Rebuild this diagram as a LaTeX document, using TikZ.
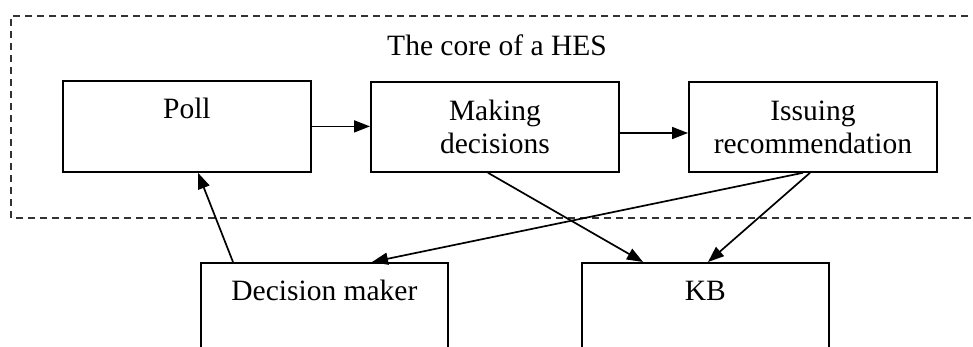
\documentclass[tikz,border=0pt]{standalone}
\usepackage{fontspec}
\setmainfont{Liberation Serif}
\usetikzlibrary{arrows.meta}
\begin{document}
\begin{tikzpicture}[x=1pt,y=-1pt,
  box/.style={draw, line width=1.8pt, inner sep=0pt, align=center, anchor=north west,
    font=\fontsize{29.5}{33}\selectfont},
  arr/.style={line width=1.7pt, -{Triangle[length=16pt,width=12pt]}},
  core/.style={draw=black!80, line width=1.5pt, dash pattern=on 7pt off 5pt}]
\useasboundingbox (0,0) rectangle (973,347);
\clip (0,0) rectangle (973,347);
\fill[white] (0,0) rectangle (973,347);
\draw[core] (980,16) -- (11,16) -- (11,218) -- (980,218);
\node[font=\fontsize{29.5}{33}\selectfont] (title) at (497,45) {The core of a HES};
\node[box, minimum width=248pt, text height=38pt, text depth=53pt] (poll) at (62,80) {Poll};
\node[box, minimum width=248pt, minimum height=90pt] (mk) at (370,81) {Making\\decisions};
\node[box, minimum width=248pt, minimum height=90pt] (iss) at (688,81) {Issuing\\recommendation};
\node[box, minimum width=247pt, text height=38pt, text depth=110pt] (dm) at (200,262) {Decision maker};
\node[box, minimum width=247pt, text height=38pt, text depth=110pt] (kb) at (581,262) {KB};
\draw[arr] (poll.east) -- (mk.west |- poll.east);
\draw[arr] (mk.east |- 0,133) -- (iss.west |- 0,133);
\draw[arr] ([xshift=33pt]dm.north west) -- ([xshift=136pt]poll.south west);
\draw[arr] ([xshift=118pt]mk.south west) -- ([xshift=62pt]kb.north west);
\draw[arr] ([xshift=115pt]iss.south west) -- ([xshift=172pt]dm.north west);
\draw[arr] ([xshift=122pt]iss.south west) -- ([xshift=127pt]kb.north west);
\end{tikzpicture}
\end{document}
